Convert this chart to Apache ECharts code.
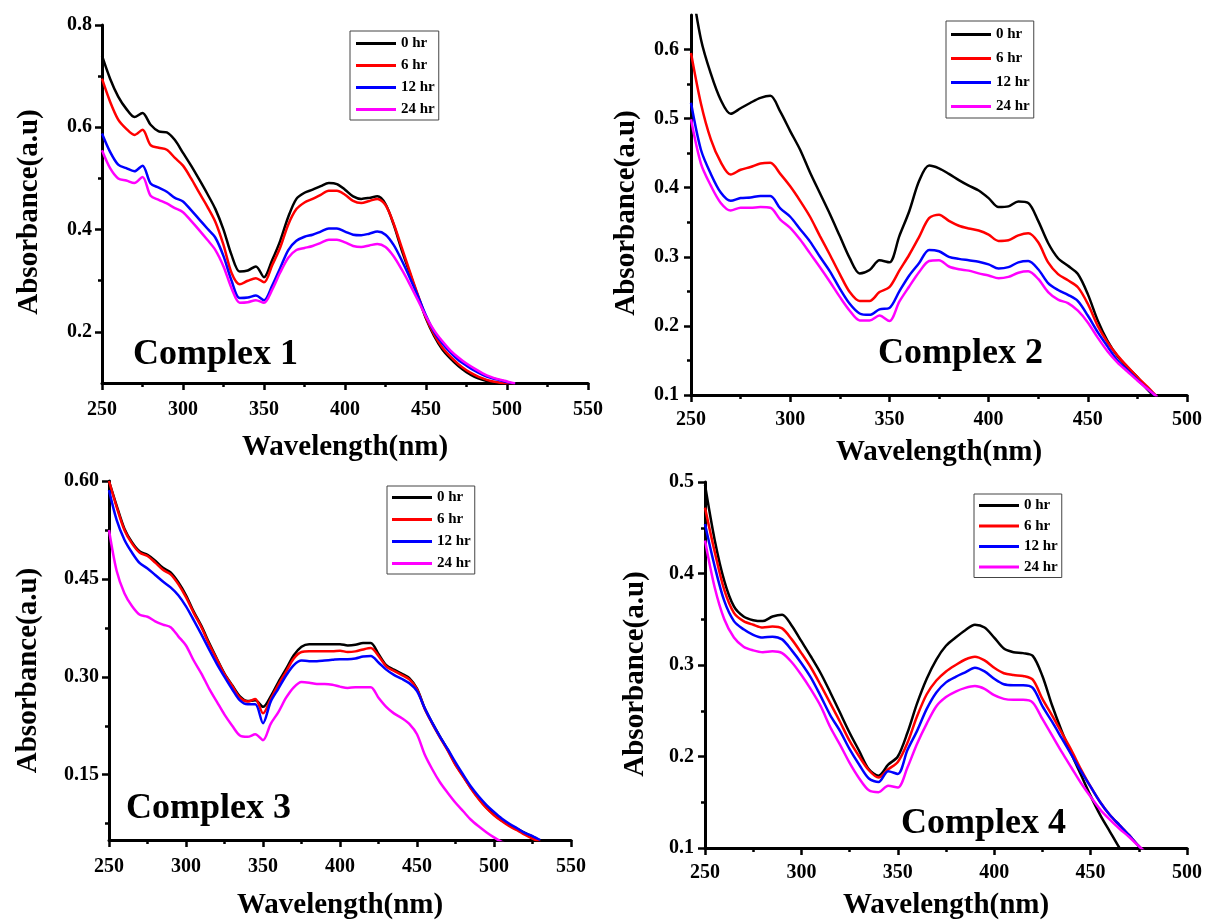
<!DOCTYPE html>
<html>
<head>
<meta charset="utf-8">
<script src="https://cdn.jsdelivr.net/npm/echarts@6/dist/echarts.min.js"></script>
<style>
html,body{margin:0;padding:0;background:#fff;}
#chart{width:1205px;height:921px;}
</style>
</head>
<body>
<div id="chart"></div>
<script>
// ---------- DATA ----------
const seriesNames = ['0 hr', '6 hr', '12 hr', '24 hr'];
const seriesColors = ['#000000', '#ff0000', '#0000ff', '#ff00ff'];
const xAxisTitle = 'Wavelength(nm)';
const yAxisTitle = 'Absorbance(a.u)';
const panelLabels = ['Complex 1', 'Complex 2', 'Complex 3', 'Complex 4'];

// Complex 1
const c1_wl = [250,255,260,265,270,275,280,285,290,295,300,305,310,315,320,325,330,335,340,345,350,355,360,365,370,375,380,385,390,395,400,405,410,415,420,425,430,435,440,445,450,455,460,465,470,475,480,485,490,495,500,505];
const c1_0hr = [0.740,0.695,0.660,0.636,0.620,0.628,0.605,0.592,0.590,0.575,0.550,0.525,0.498,0.470,0.440,0.400,0.350,0.318,0.320,0.328,0.307,0.340,0.378,0.425,0.460,0.472,0.478,0.485,0.491,0.489,0.478,0.465,0.460,0.462,0.465,0.450,0.410,0.360,0.315,0.270,0.226,0.192,0.166,0.148,0.133,0.121,0.112,0.106,0.102,0.099,0.096,0.093];
const c1_6hr = [0.695,0.650,0.615,0.597,0.585,0.595,0.565,0.560,0.556,0.540,0.525,0.500,0.472,0.445,0.415,0.370,0.315,0.293,0.300,0.305,0.297,0.330,0.365,0.410,0.440,0.453,0.460,0.468,0.476,0.476,0.468,0.456,0.452,0.456,0.460,0.448,0.412,0.365,0.318,0.272,0.228,0.195,0.170,0.152,0.137,0.125,0.116,0.109,0.104,0.101,0.098,0.095];
const c1_12hr = [0.588,0.552,0.527,0.520,0.514,0.525,0.490,0.482,0.474,0.462,0.455,0.438,0.420,0.402,0.384,0.348,0.300,0.266,0.267,0.271,0.262,0.290,0.325,0.360,0.378,0.386,0.390,0.396,0.402,0.402,0.396,0.390,0.389,0.392,0.396,0.390,0.370,0.340,0.306,0.270,0.232,0.200,0.178,0.160,0.145,0.134,0.124,0.116,0.110,0.106,0.102,0.098];
const c1_24hr = [0.555,0.520,0.500,0.496,0.491,0.503,0.466,0.458,0.451,0.442,0.434,0.417,0.399,0.380,0.360,0.328,0.285,0.257,0.258,0.262,0.257,0.282,0.316,0.345,0.360,0.364,0.368,0.374,0.380,0.380,0.375,0.368,0.366,0.369,0.372,0.366,0.348,0.322,0.293,0.262,0.230,0.203,0.182,0.164,0.150,0.138,0.128,0.119,0.112,0.107,0.103,0.099];

// Complex 2
const c2_wl = [250,255,260,265,270,275,280,285,290,295,300,305,310,315,320,325,330,335,340,345,350,355,360,365,370,375,380,385,390,395,400,405,410,415,420,425,430,435,440,445,450,455,460,465,470,475,480,485];
const c2_0hr = [0.700,0.615,0.565,0.527,0.507,0.515,0.523,0.530,0.533,0.510,0.482,0.455,0.422,0.392,0.362,0.330,0.298,0.276,0.281,0.295,0.292,0.330,0.366,0.410,0.432,0.428,0.420,0.411,0.403,0.396,0.385,0.372,0.373,0.380,0.378,0.352,0.320,0.298,0.287,0.275,0.246,0.208,0.178,0.156,0.140,0.126,0.108,0.094];
const c2_6hr = [0.595,0.522,0.470,0.437,0.419,0.426,0.430,0.435,0.436,0.420,0.402,0.381,0.358,0.330,0.303,0.275,0.249,0.236,0.236,0.249,0.256,0.280,0.303,0.329,0.356,0.361,0.352,0.345,0.341,0.338,0.332,0.323,0.324,0.331,0.334,0.321,0.292,0.275,0.266,0.256,0.232,0.200,0.176,0.157,0.141,0.126,0.112,0.097];
const c2_12hr = [0.523,0.455,0.420,0.393,0.381,0.385,0.386,0.388,0.388,0.370,0.358,0.340,0.322,0.300,0.279,0.254,0.232,0.218,0.216,0.224,0.226,0.250,0.273,0.291,0.310,0.308,0.300,0.297,0.295,0.293,0.289,0.283,0.285,0.292,0.294,0.282,0.262,0.252,0.245,0.236,0.215,0.191,0.170,0.150,0.136,0.122,0.109,0.097];
const c2_24hr = [0.499,0.435,0.403,0.378,0.367,0.371,0.371,0.372,0.371,0.354,0.342,0.325,0.305,0.285,0.264,0.242,0.222,0.208,0.208,0.215,0.207,0.235,0.257,0.278,0.294,0.295,0.286,0.282,0.280,0.276,0.273,0.269,0.271,0.277,0.279,0.268,0.249,0.238,0.233,0.222,0.205,0.183,0.163,0.147,0.134,0.121,0.109,0.097];

// Complex 3
const c3_wl = [250,255,260,265,270,275,280,285,290,295,300,305,310,315,320,325,330,335,340,345,350,355,360,365,370,375,380,385,390,395,400,405,410,415,420,425,430,435,440,445,450,455,460,465,470,475,480,485,490,495,500,505,510,515,520,525,530];
const c3_0hr = [0.600,0.562,0.527,0.506,0.492,0.487,0.478,0.467,0.460,0.445,0.425,0.400,0.378,0.352,0.328,0.305,0.287,0.270,0.263,0.264,0.254,0.270,0.292,0.312,0.333,0.346,0.350,0.350,0.350,0.350,0.350,0.348,0.349,0.352,0.352,0.335,0.318,0.311,0.305,0.298,0.282,0.252,0.229,0.208,0.188,0.166,0.148,0.130,0.114,0.100,0.089,0.080,0.073,0.067,0.061,0.055,0.049];
const c3_6hr = [0.600,0.560,0.525,0.504,0.490,0.485,0.475,0.464,0.457,0.442,0.422,0.398,0.376,0.350,0.327,0.304,0.286,0.268,0.262,0.266,0.244,0.266,0.288,0.308,0.328,0.338,0.339,0.339,0.339,0.339,0.340,0.338,0.339,0.342,0.344,0.332,0.316,0.309,0.303,0.296,0.281,0.251,0.228,0.207,0.187,0.165,0.147,0.129,0.113,0.099,0.088,0.079,0.071,0.065,0.058,0.052,0.047];
const c3_12hr = [0.586,0.540,0.510,0.490,0.474,0.466,0.456,0.446,0.437,0.425,0.408,0.387,0.365,0.342,0.320,0.300,0.281,0.264,0.258,0.258,0.229,0.262,0.282,0.302,0.318,0.325,0.324,0.324,0.325,0.326,0.327,0.327,0.328,0.331,0.332,0.322,0.311,0.303,0.297,0.290,0.278,0.252,0.229,0.208,0.189,0.169,0.150,0.132,0.117,0.104,0.093,0.083,0.075,0.068,0.061,0.056,0.050];
const c3_24hr = [0.525,0.462,0.428,0.408,0.395,0.392,0.385,0.380,0.376,0.362,0.348,0.325,0.305,0.282,0.262,0.242,0.225,0.210,0.208,0.212,0.203,0.228,0.246,0.268,0.284,0.292,0.291,0.289,0.289,0.288,0.285,0.283,0.284,0.284,0.284,0.268,0.254,0.244,0.237,0.228,0.212,0.181,0.158,0.138,0.122,0.107,0.094,0.081,0.071,0.062,0.054,0.047,0.042,0.038,0.034,0.030,0.027];

// Complex 4
const c4_wl = [250,255,260,265,270,275,280,285,290,295,300,305,310,315,320,325,330,335,340,345,350,355,360,365,370,375,380,385,390,395,400,405,410,415,420,425,430,435,440,445,450,455,460,465,470,475,480];
const c4_0hr = [0.497,0.437,0.392,0.364,0.353,0.349,0.348,0.353,0.355,0.343,0.326,0.309,0.291,0.270,0.248,0.226,0.206,0.186,0.179,0.191,0.200,0.226,0.258,0.285,0.306,0.321,0.330,0.338,0.344,0.341,0.330,0.318,0.314,0.313,0.310,0.288,0.256,0.228,0.203,0.180,0.157,0.136,0.118,0.100,0.085,0.072,0.060];
const c4_6hr = [0.472,0.424,0.382,0.357,0.348,0.344,0.341,0.342,0.340,0.328,0.313,0.297,0.278,0.258,0.238,0.217,0.200,0.185,0.177,0.186,0.194,0.215,0.244,0.268,0.283,0.293,0.300,0.306,0.309,0.305,0.297,0.291,0.289,0.288,0.284,0.263,0.245,0.226,0.207,0.186,0.167,0.150,0.136,0.125,0.114,0.102,0.092];
const c4_12hr = [0.454,0.408,0.370,0.348,0.339,0.333,0.330,0.331,0.328,0.316,0.302,0.286,0.266,0.245,0.228,0.208,0.191,0.176,0.172,0.184,0.181,0.207,0.228,0.252,0.270,0.281,0.287,0.292,0.297,0.293,0.285,0.279,0.278,0.278,0.275,0.255,0.238,0.220,0.202,0.184,0.167,0.150,0.136,0.125,0.114,0.102,0.092];
const c4_24hr = [0.436,0.385,0.350,0.330,0.320,0.316,0.314,0.315,0.313,0.303,0.289,0.273,0.255,0.232,0.213,0.193,0.176,0.163,0.161,0.168,0.166,0.188,0.214,0.236,0.255,0.265,0.271,0.275,0.277,0.274,0.267,0.263,0.262,0.262,0.259,0.241,0.223,0.205,0.188,0.171,0.156,0.142,0.131,0.121,0.112,0.102,0.093];

// Axis ranges and tick labels
const c1_xRange = [250, 550], c1_yRange = [0.1, 0.8];
const c1_xTicks = [250,300,350,400,450,500,550], c1_xMinor = [275,325,375,425,475,525];
const c1_yTicks = [0.2,0.4,0.6,0.8], c1_yMinor = [0.3,0.5,0.7];
const c2_xRange = [250, 500], c2_yRange = [0.1, 0.65];
const c2_xTicks = [250,300,350,400,450,500], c2_xMinor = [275,325,375,425,475];
const c2_yTicks = [0.1,0.2,0.3,0.4,0.5,0.6], c2_yMinor = [0.15,0.25,0.35,0.45,0.55];
const c3_xRange = [250, 550], c3_yRange = [0.05, 0.60];
const c3_xTicks = [250,300,350,400,450,500,550], c3_xMinor = [275,325,375,425,475,525];
const c3_yTicks = [0.15,0.30,0.45,0.60], c3_yMinor = [0.075,0.225,0.375,0.525];
const c4_xRange = [250, 500], c4_yRange = [0.1, 0.5];
const c4_xTicks = [250,300,350,400,450,500], c4_xMinor = [275,325,375,425,475];
const c4_yTicks = [0.1,0.2,0.3,0.4,0.5], c4_yMinor = [0.15,0.25,0.35,0.45];

// ---------- LAYOUT / STYLE ----------
const FONT = '"Liberation Serif", "Times New Roman", serif';
const panels = [
  {wl:c1_wl, vals:[c1_0hr,c1_6hr,c1_12hr,c1_24hr], xr:c1_xRange, yr:c1_yRange, xt:c1_xTicks, xm:c1_xMinor, yt:c1_yTicks, ym:c1_yMinor, dec:1,
   grid:{left:102, top:25, width:486, height:358}, xGap:50, yGap:58, yShift:16, xLabM:17, yLabM:10,
   legend:{left:350, top:31, itemGap:7, padding:[5,4,3,6]}, label:{x:133, y:355}},
  {wl:c2_wl, vals:[c2_0hr,c2_6hr,c2_12hr,c2_24hr], xr:c2_xRange, yr:c2_yRange, xt:c2_xTicks, xm:c2_xMinor, yt:c2_yTicks, ym:c2_yMinor, dec:1,
   grid:{left:691, top:15, width:496, height:380}, xGap:43, yGap:50, yShift:16, xLabM:15, yLabM:12,
   legend:{left:946, top:21, itemGap:9, padding:[6,4,4,5]}, label:{x:878, y:354}},
  {wl:c3_wl, vals:[c3_0hr,c3_6hr,c3_12hr,c3_24hr], xr:c3_xRange, yr:c3_yRange, xt:c3_xTicks, xm:c3_xMinor, yt:c3_yTicks, ym:c3_yMinor, dec:2,
   grid:{left:109, top:481, width:462, height:362}, xGap:51, yGap:66, yShift:20, xLabM:17, yLabM:10,
   legend:{left:387, top:486, itemGap:7, padding:[4,4,3,5]}, label:{x:126, y:809}},
  {wl:c4_wl, vals:[c4_0hr,c4_6hr,c4_12hr,c4_24hr], xr:c4_xRange, yr:c4_yRange, xt:c4_xTicks, xm:c4_xMinor, yt:c4_yTicks, ym:c4_yMinor, dec:1,
   grid:{left:705, top:482, width:483, height:369}, xGap:43, yGap:55, yShift:18, xLabM:15, yLabM:11,
   legend:{left:974, top:494, itemGap:5.5, padding:[4,4,3,5]}, label:{x:901, y:824}}
];

const option = {
  backgroundColor: '#ffffff',
  animation: false,
  grid: [], xAxis: [], yAxis: [], series: [], legend: [], graphic: []
};

const labelStyle = {color:'#000', fontFamily:FONT, fontWeight:'bold', fontSize:20};
const nameStyle = {color:'#000', fontFamily:FONT, fontWeight:'bold', fontSize:29};
const tickLine = {color:'#000', width:2.5};

panels.forEach((p, i) => {
  option.grid.push(Object.assign({containLabel:false}, p.grid));
  const fmt = v => Number(v).toFixed(p.dec);
  // main x
  option.xAxis.push({
    type:'value', gridIndex:i, min:p.xr[0], max:p.xr[1], position:'bottom',
    axisLine:{show:true, onZero:false, lineStyle:{color:'#000', width:3}},
    axisTick:{show:true, customValues:p.xt, length:7, lineStyle:tickLine},
    axisLabel:{show:true, customValues:p.xt, margin:p.xLabM, ...labelStyle},
    splitLine:{show:false},
    name:xAxisTitle, nameLocation:'middle', nameGap:p.xGap, nameTextStyle:nameStyle
  });
  // minor x
  option.xAxis.push({
    type:'value', gridIndex:i, min:p.xr[0], max:p.xr[1], position:'bottom', offset:0,
    axisLine:{show:false, onZero:false},
    axisTick:{show:true, customValues:p.xm, length:4, lineStyle:tickLine},
    axisLabel:{show:false}, splitLine:{show:false}
  });
  // main y
  option.yAxis.push({
    type:'value', gridIndex:i, min:p.yr[0], max:p.yr[1], position:'left',
    axisLine:{show:true, onZero:false, lineStyle:{color:'#000', width:3}},
    axisTick:{show:true, customValues:p.yt, length:7, lineStyle:tickLine},
    axisLabel:{show:true, customValues:p.yt, margin:p.yLabM, formatter:fmt, ...labelStyle},
    splitLine:{show:false},
    name:yAxisTitle, nameLocation:'middle', nameRotate:90, nameGap:p.yGap,
    nameTextStyle:Object.assign({padding:[0, p.yShift, 0, 0]}, nameStyle)
  });
  // minor y
  option.yAxis.push({
    type:'value', gridIndex:i, min:p.yr[0], max:p.yr[1], position:'left', offset:0,
    axisLine:{show:false, onZero:false},
    axisTick:{show:true, customValues:p.ym, length:4, lineStyle:tickLine},
    axisLabel:{show:false}, splitLine:{show:false}
  });
  p.vals.forEach((vals, k) => {
    option.series.push({
      type:'line', name:seriesNames[k], xAxisIndex:2*i, yAxisIndex:2*i,
      data:p.wl.map((w, j) => [w, vals[j]]),
      showSymbol:false, symbol:'none', smooth:0.3, clip:true,
      color:seriesColors[k], itemStyle:{color:seriesColors[k]},
      lineStyle:{color:seriesColors[k], width:2.5},
      z:2 + k, silent:true
    });
  });
  option.legend.push({
    orient:'vertical', left:p.legend.left, top:p.legend.top, data:seriesNames,
    icon:'rect', itemWidth:40, itemHeight:3, itemGap:p.legend.itemGap,
    selectedMode:false, borderColor:'#444', borderWidth:1, padding:p.legend.padding,
    textStyle:{color:'#000', fontFamily:FONT, fontWeight:'bold', fontSize:15}
  });
  option.graphic.push({
    type:'text', x:p.label.x, y:p.label.y, silent:true,
    style:{text:panelLabels[i], font:'bold 36px ' + FONT, fill:'#000',
           textVerticalAlign:'middle', verticalAlign:'middle'}
  });
});

const chart = echarts.init(document.getElementById('chart'), null, {renderer:'canvas'});
chart.setOption(option);
</script>
</body>
</html>
